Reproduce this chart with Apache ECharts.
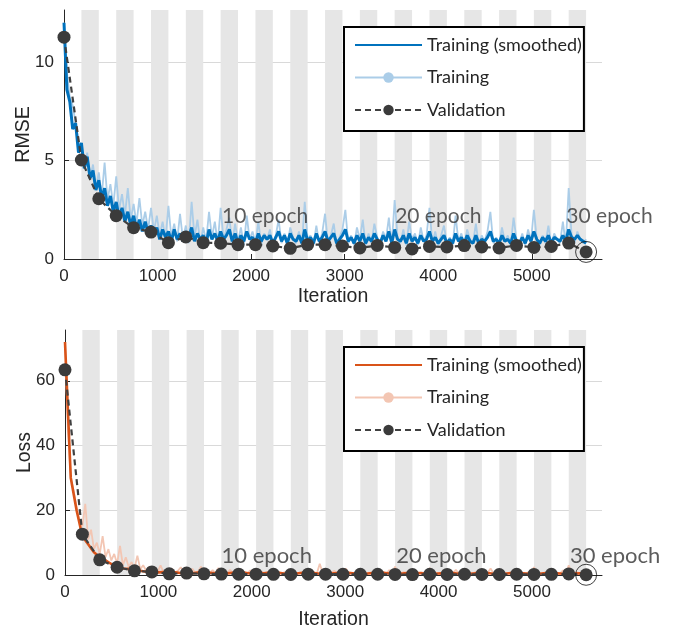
<!DOCTYPE html>
<html>
<head>
<meta charset="utf-8">
<script src="https://cdn.jsdelivr.net/npm/echarts@6/dist/echarts.min.js"></script>
<style>html,body{margin:0;padding:0;background:#fff}#c{width:686px;height:628px}</style>
</head>
<body>
<div id="c"></div>
<script>
// ---------- DATA ----------
const itersPerEpoch = 186;
const numEpochs = 30;
const rawStep = 31;      // iteration spacing of raw training samples
const smoothStepTop = 31;
const smoothStepBot = 62;

const valIter = [0,186,372,558,744,930,1116,1302,1488,1674,1860,2046,2232,2418,2604,2790,2976,3162,3348,3534,3720,3906,4092,4278,4464,4650,4836,5022,5208,5394,5580];
const valRMSE = [11.27,5.03,3.06,2.2,1.59,1.37,0.83,1.12,0.83,0.80,0.73,0.73,0.66,0.54,0.73,0.73,0.66,0.56,0.69,0.59,0.51,0.64,0.61,0.68,0.61,0.56,0.69,0.59,0.64,0.81,0.36];
const valLoss = [63.4,12.6,4.7,2.4,1.3,0.95,0.35,0.6,0.35,0.3,0.27,0.27,0.22,0.15,0.27,0.27,0.23,0.2,0.24,0.17,0.13,0.2,0.19,0.23,0.19,0.16,0.24,0.17,0.2,0.33,0.07];

const rawRMSE = [12.0,9.5,8.2,7.8,6.9,6.0,5.6,4.6,5.4,4.1,4.8,
 3.6,4.4,3.2,4.9,3.0,3.8,2.7,4.2,2.5,3.3,
 2.2,3.6,2.0,2.8,1.8,3.1,1.7,2.4,1.5,2.6,
 1.4,2.2,1.2,1.9,1.0,2.7,1.1,1.8,0.9,2.3,
 1.0,1.7,0.8,2.9,1.1,2.0,0.8,1.6,0.9,2.4,
 1.1,1.9,0.8,2.6,1.0,1.5,2.1,0.8,1.8,0.9,
 1.6,0.7,2.2,1.0,1.4,0.8,1.9,0.7,1.3,1.0,
 1.5,0.7,1.2,2.0,0.8,1.3,0.7,1.6,1.1,0.8,
 1.4,0.7,2.9,1.0,1.2,0.7,1.7,0.8,1.3,2.3,
 0.8,1.2,1.8,0.7,1.1,1.5,2.5,0.8,1.2,0.7,
 1.6,1.0,2.0,0.7,1.3,0.8,1.8,1.1,0.7,1.4,
 1.0,2.1,0.7,3.0,1.1,0.8,1.5,0.7,1.9,1.0,
 1.3,0.7,1.6,0.9,1.2,2.6,0.8,1.4,0.7,1.2,
 1.7,0.8,1.1,0.7,2.2,0.9,1.3,0.7,1.5,1.0,
 0.8,1.8,0.7,1.2,0.9,1.4,2.4,0.8,1.1,0.7,
 1.6,0.9,1.2,0.7,2.1,1.0,0.8,1.3,0.7,1.5,
 0.9,2.5,1.0,0.7,1.2,0.8,1.7,0.7,1.3,1.0,
 0.8,1.9,0.7,3.6,1.2,0.8,1.4,1.0,0.8,1.0];

const smoothRMSE = [12.0,8.6,8.0,6.6,6.9,5.4,5.9,4.6,5.2,4.1,4.5,
 3.5,4.0,3.1,3.6,2.7,3.2,2.4,2.9,2.1,2.6,
 1.9,2.4,1.7,2.2,1.5,2.0,1.4,1.9,1.3,1.7,
 1.2,1.6,1.0,1.5,1.1,1.4,0.9,1.5,1.0,1.3,
 0.9,1.4,1.1,1.6,0.9,1.3,1.0,1.2,0.8,1.5,
 1.0,1.3,0.9,1.4,1.0,1.2,1.5,0.9,1.3,0.8,
 1.2,0.9,1.4,1.0,1.1,0.8,1.3,0.9,1.2,1.0,
 1.2,0.8,1.1,1.4,0.9,1.2,0.8,1.3,1.0,0.9,
 1.2,0.8,1.5,0.9,1.1,0.8,1.3,0.9,1.1,1.4,
 0.9,1.1,1.3,0.8,1.0,1.2,1.5,0.9,1.1,0.8,
 1.2,0.9,1.3,0.8,1.1,0.9,1.3,1.0,0.8,1.2,
 0.9,1.4,0.8,1.5,1.0,0.9,1.2,0.8,1.3,0.9,
 1.1,0.8,1.2,0.9,1.0,1.4,0.9,1.1,0.8,1.0,
 1.2,0.8,1.0,0.8,1.3,0.9,1.1,0.8,1.2,0.9,
 0.8,1.2,0.8,1.0,0.9,1.1,1.4,0.9,1.0,0.8,
 1.2,0.9,1.0,0.8,1.3,0.9,0.8,1.1,0.8,1.2,
 0.9,1.4,1.0,0.8,1.1,0.9,1.2,0.8,1.1,1.0,
 0.9,1.2,0.9,1.5,1.1,1.0,1.2,1.0,0.9,0.8];

const rawLoss = [72,45,30,26,21,17,15,22,11,14,8,
 10,6.5,12,5.5,8,4.5,6.5,3.5,9,3.0,
 5.5,2.5,4.0,2.0,6.0,1.8,3.0,1.4,2.5,1.2,
 2.0,1.0,3.0,0.9,1.6,0.8,1.9,0.7,1.3,2.4,
 0.8,1.2,0.6,1.9,0.7,1.1,2.6,0.6,1.0,0.7,
 1.5,0.6,2.2,0.7,0.9,0.5,1.6,0.6,0.8,1.2,
 0.5,0.9,0.6,1.4,0.5,0.8,0.6,1.0,0.5,0.7,
 0.6,1.1,0.5,0.7,0.5,0.9,0.5,0.6,0.8,0.5,
 0.7,0.5,1.6,0.6,0.5,0.8,0.5,3.5,0.6,1.0,
 0.5,0.7,1.3,0.5,0.6,0.9,2.0,0.5,0.6,0.5,
 0.9,0.5,1.2,0.5,0.7,0.5,1.0,0.6,0.5,0.8,
 0.5,1.5,0.5,2.6,0.6,0.5,0.9,0.5,1.2,0.6,
 0.6,0.5,0.9,0.5,0.6,2.2,0.5,0.7,0.5,0.6,
 1.1,0.5,0.6,0.5,1.6,0.5,0.6,0.5,0.8,0.5,
 0.5,1.0,0.5,0.6,0.5,0.7,2.0,0.5,0.6,0.4,
 0.9,0.5,0.6,0.4,1.5,0.5,0.5,0.7,0.4,0.8,
 0.5,2.4,0.5,0.4,0.6,0.5,1.2,0.4,0.6,0.5,
 0.5,1.4,0.4,3.0,0.6,0.5,0.8,0.5,0.4,0.4];

const smoothLoss = [72,30,20,12,9.5,7,5.5,4.5,3.4,2.8,
 2.0,1.9,1.3,1.3,1.0,0.9,0.8,0.9,0.6,0.8,
 0.6,0.8,0.5,0.8,0.5,0.7,0.5,0.7,0.5,0.7,
 0.5,0.7,0.45,0.65,0.45,0.7,0.45,0.65,0.4,0.65,
 0.45,0.7,0.45,0.6,0.4,0.65,0.45,0.6,0.4,0.65,
 0.45,0.6,0.4,0.6,0.4,0.65,0.45,0.6,0.4,0.6,
 0.4,0.6,0.45,0.6,0.4,0.55,0.4,0.6,0.4,0.6,
 0.4,0.55,0.4,0.6,0.4,0.55,0.4,0.6,0.4,0.55,
 0.35,0.55,0.4,0.6,0.4,0.55,0.4,0.6,0.45,0.5,0.35];

const epochLabels = ['10 epoch','20 epoch','30 epoch'];
const epochLabelIterTop = [2150, 4000, 5830];
const epochLabelValTop = [2.15, 2.15, 2.15];
const epochLabelIterBot = [2160, 4030, 5890];
const epochLabelValBot = [5.8, 5.8, 5.8];

const xTicks = { min: 0, max: 5750, interval: 1000 };
const rmseTicks = { min: 0, max: 12.65, interval: 5 };
const lossTicks = { min: 0, max: 75.7, interval: 20 };

// ---------- BUILD ----------
const toPts = (arr, step) => arr.map((v, i) => [i * step, v]);
const bands = [];
for (let e = 2; e <= numEpochs; e += 2) {
  bands.push([{ xAxis: (e - 1) * itersPerEpoch }, { xAxis: e * itersPerEpoch }]);
}

const TXT = '#262626';
const SANS = "'Liberation Sans', Arial, sans-serif";

function xAxisCfg(gi, gap) {
  return {
    type: 'value', gridIndex: gi, min: xTicks.min, max: xTicks.max, interval: xTicks.interval,
    name: 'Iteration', nameLocation: 'middle', nameGap: gap, nameMoveOverlap: false,
    nameTextStyle: { fontFamily: SANS, fontSize: 19.5, color: TXT },
    axisLine: { show: true, lineStyle: { color: TXT, width: 1 } },
    axisTick: { show: true, inside: true, length: 5, lineStyle: { color: TXT } },
    axisLabel: { margin: 9, showMaxLabel: false, fontFamily: SANS, fontSize: 17, color: TXT,
      formatter: v => String(v) },
    splitLine: { show: false }
  };
}
function yAxisCfg(gi, t, name) {
  return {
    type: 'value', gridIndex: gi, min: t.min, max: t.max, interval: t.interval,
    name: name, nameLocation: 'middle', nameGap: 30, nameMoveOverlap: false,
    nameTextStyle: { fontFamily: SANS, fontSize: 19.5, color: TXT },
    axisLine: { show: true, lineStyle: { color: TXT, width: 1 } },
    axisTick: { show: true, inside: true, length: 5, lineStyle: { color: TXT } },
    axisLabel: { margin: 10, showMaxLabel: false, fontFamily: SANS, fontSize: 17, color: TXT,
      formatter: v => String(v) },
    splitLine: { show: true, showMinLine: false, showMaxLine: false, lineStyle: { color: '#d9d9d9', width: 1 } }
  };
}

function chartSeries(gi, names, cols, raw, smooth, smoothStep, smoothW, val, lblIter, lblVal, lblSize) {
  return [
    { type: 'line', xAxisIndex: gi, yAxisIndex: gi, data: [], z: 1, silent: true,
      markArea: { silent: true, itemStyle: { color: '#e6e6e6' }, data: bands } },
    { name: names[1], type: 'line', xAxisIndex: gi, yAxisIndex: gi, z: 2,
      data: toPts(raw, rawStep), symbol: 'circle', symbolSize: 10, showSymbol: false,
      lineStyle: { color: cols[1], width: 1.8 }, itemStyle: { color: cols[1] } },
    { name: names[0], type: 'line', xAxisIndex: gi, yAxisIndex: gi, z: 3,
      data: toPts(smooth, smoothStep), symbol: 'none',
      lineStyle: { color: cols[0], width: smoothW }, itemStyle: { color: cols[0] } },
    { name: names[2], type: 'line', xAxisIndex: gi, yAxisIndex: gi, z: 4,
      data: val.map((v, i) => [valIter[i], v]), symbol: 'circle', symbolSize: 13, showSymbol: true,
      lineStyle: { color: '#404040', width: 2.2, type: [6, 4] }, itemStyle: { color: '#3b3b3b' } },
    { type: 'scatter', xAxisIndex: gi, yAxisIndex: gi, z: 5, silent: true, clip: false,
      data: [[valIter[valIter.length - 1], val[val.length - 1]]], symbol: 'circle', symbolSize: 21,
      itemStyle: { color: 'rgba(0,0,0,0)', borderColor: '#111', borderWidth: 1 } },
    { type: 'scatter', xAxisIndex: gi, yAxisIndex: gi, z: 6, silent: true, symbolSize: 0, clip: false,
      data: lblIter.map((x, i) => ({ value: [x, lblVal[i]], label: { formatter: epochLabels[i] } })),
      label: { show: true, position: 'inside', fontFamily: 'Lato', fontSize: lblSize, color: '#333' } }
  ];
}

const topNames = ['Training (smoothed)', 'Training', 'Validation'];
const botNames = ['Loss Training (smoothed)', 'Loss Training', 'Loss Validation'];
const legendName = n => n.replace('Loss ', '');

function legendCfg(top, names) {
  return {
    data: [{ name: names[0], itemStyle: { opacity: 0 } }, names[1], names[2]],
    orient: 'vertical', left: 344, top: top, z: 20,
    backgroundColor: '#fff', borderColor: '#000', borderWidth: 2, borderRadius: 0,
    padding: [8, 2, 11, 10], itemWidth: 67, itemHeight: 13, itemGap: 12.5,
    selectedMode: false,
    formatter: legendName,
    textStyle: { fontFamily: 'Lato', fontSize: 18, color: TXT, lineHeight: 20 }
  };
}

const chart = echarts.init(document.getElementById('c'), null, { renderer: 'canvas' });
chart.setOption({
  animation: false,
  backgroundColor: '#fff',
  textStyle: { fontFamily: SANS },
  grid: [
    { left: 64, right: 84, top: 10, height: 249, outerBoundsMode: 'none', containLabel: false },
    { left: 65, right: 84, top: 330, height: 245, outerBoundsMode: 'none', containLabel: false }
  ],
  legend: [legendCfg(27, topNames), legendCfg(347, botNames)],
  xAxis: [xAxisCfg(0, 28), xAxisCfg(1, 35)],
  yAxis: [yAxisCfg(0, rmseTicks, 'RMSE'), yAxisCfg(1, lossTicks, 'Loss')],
  series: [].concat(
    chartSeries(0, topNames, ['#0072BD', '#abcde8'], rawRMSE, smoothRMSE, smoothStepTop, 3, valRMSE, epochLabelIterTop, epochLabelValTop, 21),
    chartSeries(1, botNames, ['#D95319', '#f3c6b3'], rawLoss, smoothLoss, smoothStepBot, 2.6, valLoss, epochLabelIterBot, epochLabelValBot, 22)
  )
});
</script>
</body>
</html>
